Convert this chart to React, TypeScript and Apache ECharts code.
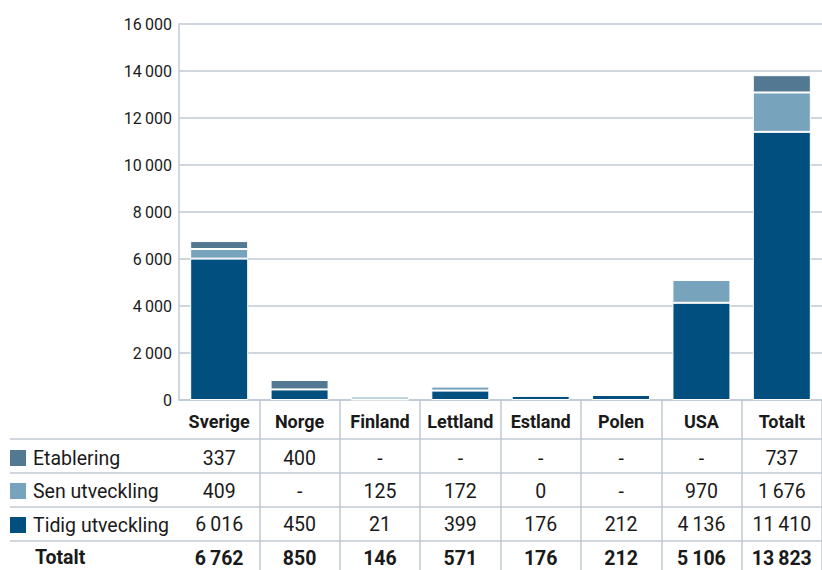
import React, { useEffect, useRef } from "react";
import * as echarts from "echarts";

const categories = ["Sverige", "Norge", "Finland", "Lettland", "Estland", "Polen", "USA", "Totalt"];
const etablering: (number | null)[] = [337, 400, null, null, null, null, null, 737];
const senUtveckling: (number | null)[] = [409, null, 125, 172, 0, null, 970, 1676];
const tidigUtveckling: (number | null)[] = [6016, 450, 21, 399, 176, 212, 4136, 11410];
const totalt: (number | null)[] = [6762, 850, 146, 571, 176, 212, 5106, 13823];

const yMin = 0;
const yMax = 16000;
const yInterval = 2000;

const seriesNames = ["Etablering", "Sen utveckling", "Tidig utveckling"];
const colors = { etablering: "#537891", sen: "#77A3BD", tidig: "#004F7E" };

const fmt = (v: number | null) =>
  v == null ? "-" : String(v).replace(/\B(?=(\d{3})+(?!\d))/g, "\u2009");

const FONT = "Roboto";
const TEXT = "#1a1a1a";
const LINE = "#bfc9d2";

export default function App() {
  const ref = useRef<HTMLDivElement>(null);
  useEffect(() => {
    if (!ref.current) return;
    const chart = echarts.init(ref.current, undefined, { renderer: "svg" });

    const valueAxis = (row: (number | null)[], margin: number, bold = false) => ({
      type: "category",
      data: categories,
      position: "bottom",
      gridIndex: 0,
      axisLine: { show: false },
      axisTick: { show: false },
      splitLine: { show: false },
      axisLabel: {
        interval: 0,
        margin,
        verticalAlign: "middle",
        fontFamily: FONT,
        fontSize: 19.5,
        fontWeight: bold ? "bold" : "normal",
        color: TEXT,
        formatter: (_v: string, i: number) => fmt(row[i]),
      },
    });

    const legendRow = (name: string, top: number) => ({
      show: true,
      data: [name],
      left: 10,
      top,
      orient: "vertical",
      icon: "rect",
      itemWidth: 16,
      itemHeight: 16,
      padding: 0,
      itemStyle: { borderWidth: 0 },
      selectedMode: false,
      textStyle: { fontFamily: FONT, fontSize: 19.5, color: TEXT, padding: [0, 0, 0, 2] },
    });

    const hLines = [439, 473, 507, 541].map((y) => ({
      type: "line",
      shape: { x1: 10, y1: y, x2: 822, y2: y },
      style: { stroke: LINE, lineWidth: 1.5 },
      silent: true,
    }));

    const option: any = {
      animation: false,
      grid: { left: 179, top: 24, width: 650, bottom: 170, containLabel: false },
      legend: [
        legendRow(seriesNames[0], 448),
        legendRow(seriesNames[1], 481),
        legendRow(seriesNames[2], 515),
      ],
      xAxis: [
        {
          type: "category",
          data: categories,
          position: "bottom",
          axisLine: { show: true, lineStyle: { color: LINE, width: 1.5 } },
          axisTick: {
            show: true,
            length: 170,
            interval: (i: number) => i !== 0,
            lineStyle: { color: LINE, width: 1.5 },
          },
          axisLabel: {
            interval: 0,
            margin: 21,
            verticalAlign: "middle",
            fontFamily: FONT,
            fontSize: 18,
            fontWeight: "bold",
            color: TEXT,
          },
        },
        valueAxis(etablering, 58),
        valueAxis(senUtveckling, 91),
        valueAxis(tidigUtveckling, 124),
        valueAxis(totalt, 158, true),
      ],
      yAxis: {
        type: "value",
        min: yMin,
        max: yMax,
        interval: yInterval,
        axisLine: { show: true, lineStyle: { color: LINE, width: 1.5 } },
        axisTick: { show: false },
        splitLine: { show: true, lineStyle: { color: LINE, width: 1.5 } },
        axisLabel: {
          margin: 7,
          fontFamily: FONT,
          fontSize: 16,
          color: TEXT,
          formatter: (v: number) => fmt(v),
        },
      },
      series: [
        {
          name: seriesNames[2],
          type: "bar",
          stack: "total",
          barWidth: 58,
          data: tidigUtveckling,
          itemStyle: { color: colors.tidig, borderColor: "#ffffff", borderWidth: 1 },
        },
        {
          name: seriesNames[1],
          type: "bar",
          stack: "total",
          barWidth: 58,
          data: senUtveckling,
          itemStyle: { color: colors.sen, borderColor: "#ffffff", borderWidth: 1 },
        },
        {
          name: seriesNames[0],
          type: "bar",
          stack: "total",
          barWidth: 58,
          data: etablering,
          itemStyle: { color: colors.etablering, borderColor: "#ffffff", borderWidth: 1 },
        },
      ],
      graphic: [
        ...hLines,
        {
          type: "text",
          left: 35,
          top: 547,
          style: {
            text: "Totalt",
            fontFamily: FONT,
            fontSize: 19.5,
            fontWeight: "bold",
            fill: TEXT,
          },
        },
      ],
    };

    chart.setOption(option);
    return () => chart.dispose();
  }, []);

  return (
    <div
      ref={ref}
      style={{ position: "absolute", left: 0, top: 0, width: 822, height: 570, background: "#fff" }}
    />
  );
}
